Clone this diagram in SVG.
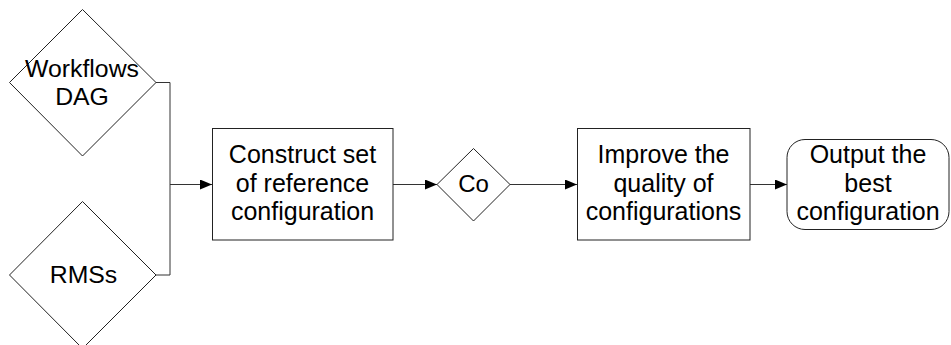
<svg xmlns="http://www.w3.org/2000/svg" width="951" height="345" viewBox="0 0 951 345">
<style>
.shape{fill:#fff;stroke:#222;stroke-width:1}
.edge{fill:none;stroke:#333;stroke-width:1}
text{font-family:"Liberation Sans",Arial,sans-serif;fill:#000;text-anchor:middle}
.t1{font-size:25px}
.t2{font-size:24.8px}
</style>
<defs>
<marker id="arr" markerWidth="12" markerHeight="10" refX="12" refY="5" orient="auto" markerUnits="userSpaceOnUse">
<path d="M0,0 L12,5 L0,10 Z" fill="#000"/>
</marker>
</defs>
<g id="connectors">
<polyline class="edge" points="156,82.5 170,82.5 170,275 156,275"/>
<line class="edge" x1="170" y1="184.5" x2="212" y2="184.5" marker-end="url(#arr)"/>
<line class="edge" x1="393" y1="184.5" x2="437" y2="184.5" marker-end="url(#arr)"/>
<line class="edge" x1="510" y1="184.5" x2="577" y2="184.5" marker-end="url(#arr)"/>
<line class="edge" x1="750" y1="184.5" x2="787" y2="184.5" marker-end="url(#arr)"/>
</g>
<g id="workflows">
<polygon class="shape" points="82.5,9.5 156,82.5 82.5,156 9.5,82.5"/>
<text class="t2" x="82" y="76.5">Workflows</text>
<text class="t2" x="82" y="105">DAG</text>
</g>
<g id="rmss">
<polygon class="shape" points="82.5,201.5 156,275 82.5,348.5 9.5,275"/>
<text class="t2" x="83.5" y="282.5">RMSs</text>
</g>
<g id="construct">
<rect class="shape" x="212.5" y="128.5" width="180.5" height="111.5"/>
<text class="t1" x="302.5" y="163">Construct set</text>
<text class="t1" x="302.5" y="191.5">of reference</text>
<text class="t1" x="302.5" y="220">configuration</text>
</g>
<g id="c0">
<polygon class="shape" points="473.5,148.5 510,184.5 473.5,221 437,184.5"/>
<text class="t1" x="473.5" y="192" style="font-size:24px">Co</text>
</g>
<g id="improve">
<rect class="shape" x="577.5" y="128.5" width="172.5" height="111.5"/>
<text class="t1" x="663.5" y="163">Improve the</text>
<text class="t1" x="663.5" y="191.5">quality of</text>
<text class="t1" x="663.5" y="220">configurations</text>
</g>
<g id="output">
<rect class="shape" x="787" y="139.5" width="162" height="90" rx="18" ry="18"/>
<text class="t1" x="868" y="162.5">Output the</text>
<text class="t1" x="868" y="192">best</text>
<text class="t1" x="868" y="220">configuration</text>
</g>
</svg>
